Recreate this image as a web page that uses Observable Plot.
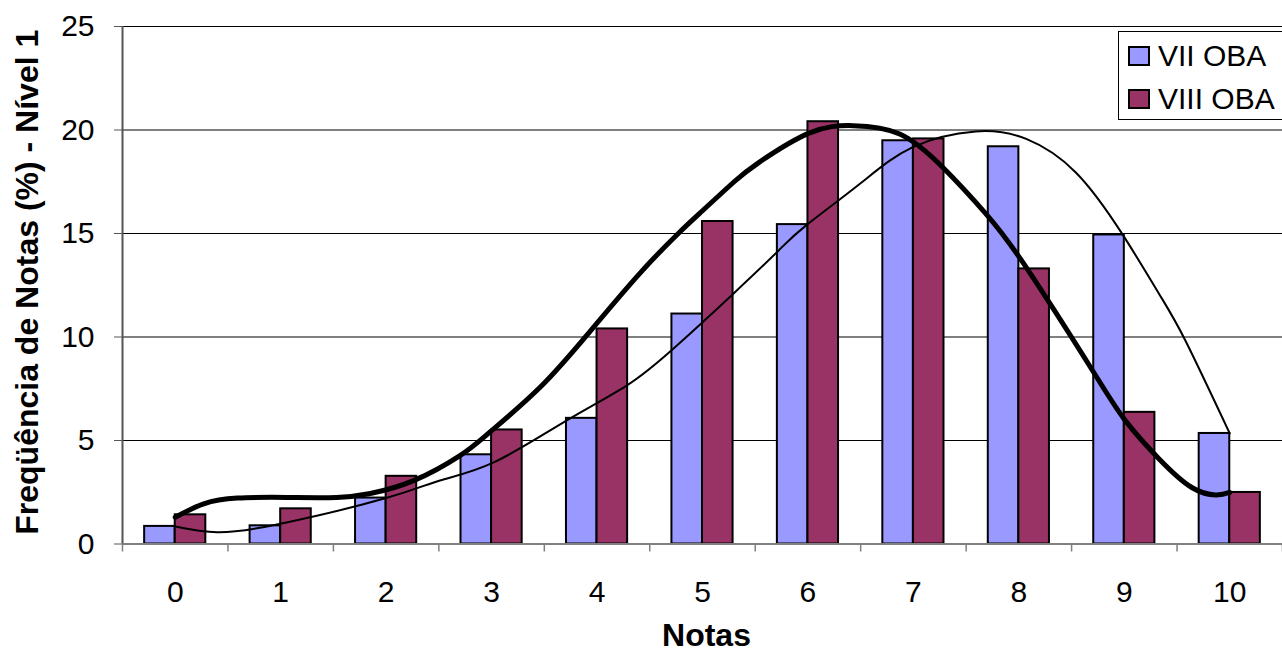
<!DOCTYPE html>
<html>
<head>
<meta charset="utf-8">
<script src="https://cdn.jsdelivr.net/npm/d3@7"></script>
<script src="https://cdn.jsdelivr.net/npm/@observablehq/plot@0.6"></script>
<style>
  html, body { margin: 0; padding: 0; background: #fff; overflow: hidden; }
  #wrap { position: relative; width: 1282px; height: 659px; font-family: "Liberation Sans", Arial, sans-serif; }
  #legend { position: absolute; left: 1118px; top: 31px; width: 175px; height: 89px; border: 1px solid #000; background: #fff; box-sizing: border-box; }
  .item { position: absolute; left: 9px; display: flex; align-items: center; font-size: 30px; color: #000; line-height: 1; }
  .sw { width: 18px; height: 16px; border: 2px solid #000; margin-right: 8px; }
</style>
</head>
<body>
<div id="wrap"></div>
<script>
// ---- data ----
const notas = [0, 1, 2, 3, 4, 5, 6, 7, 8, 9, 10];
const seriesNames = ["VII OBA", "VIII OBA"];
const valuesVII  = [0.85, 0.88, 2.22, 4.31, 6.07, 11.11, 15.43, 19.48, 19.19, 14.93, 5.34];
const valuesVIII = [1.41, 1.70, 3.27, 5.51, 10.39, 15.58, 20.40, 19.57, 13.29, 6.36, 2.49];
const yTicks = [0, 5, 10, 15, 20, 25];

// trend lines (x in nota units)
const trendVIIx = [0, 0.4, 1.0, 2.0, 2.51, 3.02, 3.71, 4.28, 4.72, 5.29, 5.72, 5.98, 6.49, 6.99, 7.59, 8.07, 8.54, 8.98, 9.33, 9.58, 10];
const trendVIIy = [0.85, 0.57, 0.98, 2.22, 3.07, 3.94, 5.96, 7.65, 9.42, 12.08, 14.17, 15.38, 17.39, 19.16, 19.93, 19.57, 17.95, 14.98, 12.08, 9.82, 5.34];
const trendVIIIx = [0, 0.27, 0.59, 1.06, 1.53, 1.85, 2.26, 2.70, 2.98, 3.46, 3.93, 4.41, 4.78, 5.0, 5.3, 5.54, 6.01, 6.43, 6.87, 7.28, 7.69, 8.07, 8.70, 9.01, 9.33, 9.64, 9.87, 10];
const trendVIIIy = [1.29, 1.94, 2.22, 2.25, 2.25, 2.44, 3.06, 4.27, 5.39, 7.57, 10.25, 13.10, 15.05, 16.10, 17.50, 18.45, 19.85, 20.21, 19.81, 18.19, 15.94, 13.36, 8.37, 5.96, 4.11, 2.73, 2.37, 2.49];

const colors = ["#9999FF", "#993366"];
const yLabel = "Freqüência de Notas (%) - Nível 1";
const xLabel = "Notas";

// ---- build tables ----
const barW = 0.29;
const bars = [];
notas.forEach((n, i) => {
  bars.push({nota: n, serie: seriesNames[0], value: valuesVII[i], side: -1});
  bars.push({nota: n, serie: seriesNames[1], value: valuesVIII[i], side: 0});
});
const tVII = trendVIIx.map((x, i) => ({x, y: trendVIIy[i]}));
const tVIII = trendVIIIx.map((x, i) => ({x, y: trendVIIIy[i]}));
const boundaries = notas.map(n => n - 0.5).concat([notas[notas.length - 1] + 0.5]);

const font = "'Liberation Sans', Arial, sans-serif";

const chart = Plot.plot({
  width: 1282,
  height: 659,
  marginTop: 26,
  marginBottom: 115.5,
  marginLeft: 122,
  marginRight: 0,
  style: {fontFamily: font, background: "#fff", color: "#000"},
  x: {type: "linear", domain: [-0.5, 10.5], axis: null},
  y: {domain: [0, 25], axis: null},
  color: {domain: seriesNames, range: colors},
  marks: [
    Plot.ruleY(yTicks.filter(d => d > 0), {stroke: "#000", strokeWidth: 1}),
    Plot.rectY(bars, {
      x1: d => d.nota + d.side * barW,
      x2: d => d.nota + (d.side + 1) * barW,
      y1: 0,
      y2: "value",
      fill: "serie",
      stroke: "#000",
      strokeWidth: 2
    }),
    Plot.line(tVII, {x: "x", y: "y", curve: "natural", stroke: "#000", strokeWidth: 2}),
    Plot.line(tVIII, {x: "x", y: "y", curve: "natural", stroke: "#000", strokeWidth: 5}),
    Plot.ruleY([0], {stroke: "#808080", strokeWidth: 2}),
    Plot.ruleX([-0.5], {stroke: "#555", strokeWidth: 2}),
    Plot.axisX({ticks: boundaries, tickFormat: () => "", tickSize: 8, stroke: "#808080", strokeWidth: 1.5, label: null}),
    Plot.axisX({ticks: notas, tickSize: 0, tickPadding: 37, fontSize: 30, tickFormat: d => String(d), label: null}),
    Plot.axisY({ticks: yTicks, tickSize: 8, tickPadding: 20, fontSize: 30, stroke: "#555", label: null}),
    Plot.text([yLabel], {frameAnchor: "left", textAnchor: "middle", dx: -95, dy: -3, rotate: -90, fontSize: 32, fontWeight: "bold", fill: "#000"}),
    Plot.text([xLabel], {frameAnchor: "bottom", textAnchor: "middle", dy: 102, dx: 4, fontSize: 32, fontWeight: "bold", fill: "#000"})
  ]
});

const wrap = document.getElementById("wrap");
wrap.appendChild(chart);

// legend
const legend = document.createElement("div");
legend.id = "legend";
seriesNames.forEach((name, i) => {
  const item = document.createElement("div");
  item.className = "item";
  item.style.top = (i === 0 ? 9 : 52) + "px";
  const sw = document.createElement("span");
  sw.className = "sw";
  sw.style.background = colors[i];
  const t = document.createElement("span");
  t.textContent = name;
  item.appendChild(sw);
  item.appendChild(t);
  legend.appendChild(item);
});
wrap.appendChild(legend);
</script>
</body>
</html>
